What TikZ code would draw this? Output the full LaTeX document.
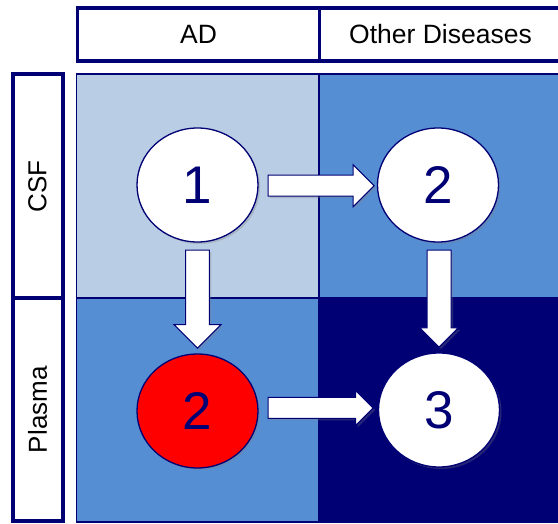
\documentclass[tikz,border=0pt]{standalone}
\usepackage{fontspec}
\setmainfont{Liberation Sans}
\usepackage{xcolor}
\usetikzlibrary{shapes.geometric,shapes.arrows,shadows}

\definecolor{navy}{RGB}{0,0,116}
\definecolor{paleblue}{RGB}{185,205,228}
\definecolor{midblue}{RGB}{86,142,212}

\begin{document}
\begin{tikzpicture}[x=1pt, y=1pt]
            \tikzstyle{every node}+=[inner sep=0pt]
            \tikzstyle{cell}=[draw=navy, line width=1.6pt, minimum width=242.5pt, minimum height=224pt]
            \tikzstyle{head}=[draw=navy, line width=3.5pt, fill=white, minimum width=242pt, minimum height=53pt, font=\fontsize{26.5}{26.5}\selectfont]
            \tikzstyle{side}=[draw=navy, line width=4pt, fill=white, rotate=90, minimum height=50pt, font=\fontsize{26}{26}\selectfont]
            \tikzstyle{state}=[ellipse, draw=navy, line width=1.3pt, fill=white, minimum width=121pt, minimum height=114pt, text=navy, font=\fontsize{53}{53}\selectfont, drop shadow={opacity=0.3, shadow xshift=2pt, shadow yshift=-2pt}]
            \tikzstyle{blockarrow}=[single arrow, draw=navy, line width=1pt, fill=white, single arrow tip angle=90, drop shadow={opacity=0.3, shadow xshift=2pt, shadow yshift=-2pt}]
            \useasboundingbox (0,0) rectangle (558,-524);
            \clip (0,0) rectangle (558,-524);
            % grid
            \node [cell, fill=paleblue] (csfad) at (197.75,-186) {};
            \node [cell, fill=midblue] (csfother) at (440.25,-186) {};
            \node [cell, fill=midblue] (plad) at (197.75,-410) {};
            \node [cell, fill=navy] (plother) at (440.25,-410) {};
            % headers
            \node [head] (hAD) at (198.5,-34.5) {AD};
            \node [head] (hOther) at (440.5,-34.5) {Other Diseases};
            \node [side, minimum width=224pt] (hCSF) at (37.5,-186.5) {CSF};
            \node [side, minimum width=222.5pt] (hPlasma) at (37.5,-409.75) {Plasma};
            % states
            \node [state] (s1) at (197.5,-185) {1};
            \node [state] (s2) at (438,-185) {2};
            \node [state, fill=red] (s2red) at (197.5,-411) {2};
            \node [state] (s3) at (439,-410) {3};
            % arrows
            \node [blockarrow, inner ysep=10pt, single arrow head extend=10.5pt, minimum height=106pt, anchor=tail] (a12) at ([xshift=9pt,yshift=-0.7pt]s1.east) {};
            \node [blockarrow, inner ysep=11.3pt, single arrow head extend=11.7pt, minimum height=98pt, rotate=-90, anchor=tail] (a1red) at ([yshift=-7pt]s1.south) {};
            \node [blockarrow, inner ysep=11.5pt, single arrow head extend=7.3pt, minimum height=97pt, rotate=-90, anchor=tail] (a23) at ([xshift=1pt,yshift=-7pt]s2.south) {};
            \node [blockarrow, inner ysep=10pt, single arrow head extend=7pt, minimum height=105pt, anchor=tail] (ared3) at ([xshift=9pt,yshift=3pt]s2red.east) {};
        \end{tikzpicture}
\end{document}
